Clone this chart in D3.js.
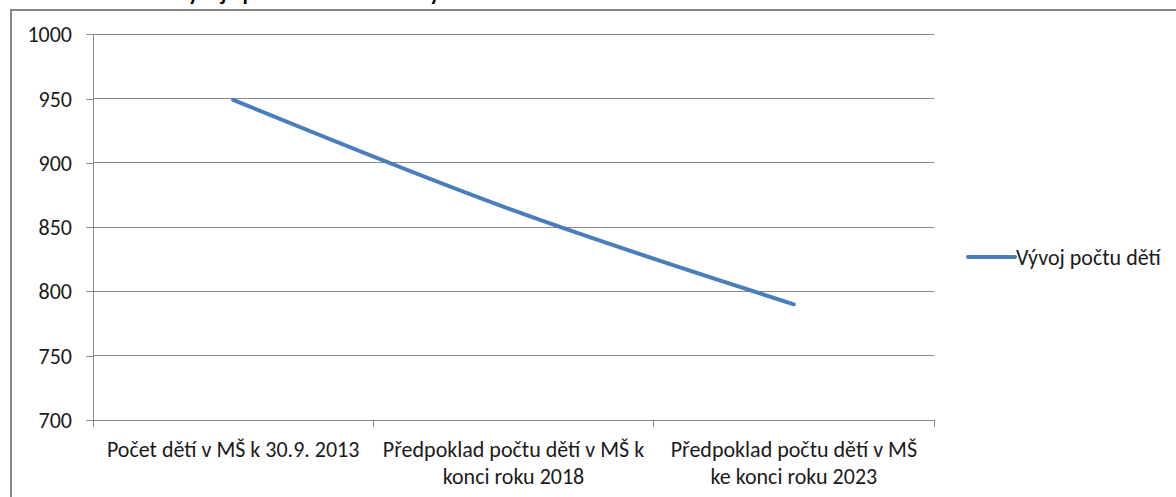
<!DOCTYPE html>
<html>
<head>
<meta charset="utf-8">
<script src="https://cdn.jsdelivr.net/npm/d3@7"></script>
<style>
  html, body { margin: 0; padding: 0; background: #fff; overflow: hidden; }
  svg { display: block; }
  text { font-family: Carlito, Calibri, Lato, "Open Sans", sans-serif; fill: #1a1a1a; }
</style>
</head>
<body>
<svg id="chart" width="1176" height="497"></svg>
<script>
// ---- data ----
const titleText = "Graf č. 12: Odhad vývoje počtu dětí v mateřských školách v ORP Hranice do roku 2023 dle ČSÚ – střední varianta";
const categories = [
  "Počet dětí v MŠ k 30.9. 2013",
  "Předpoklad počtu dětí v MŠ k konci roku 2018",
  "Předpoklad počtu dětí v MŠ ke konci roku 2023"
];
const categoryLabelLines = [
  ["Počet dětí v MŠ k 30.9. 2013"],
  ["Předpoklad počtu dětí v MŠ k", "konci roku 2018"],
  ["Předpoklad počtu dětí v MŠ", "ke konci roku 2023"]
];
const seriesName = "Vývoj počtu dětí";
const seriesValues = [949, 863, 790];
const yTicks = [700, 750, 800, 850, 900, 950, 1000];

// ---- layout ----
const svg = d3.select("#chart");
const plotLeft = 93, plotRight = 934, plotTop = 34.3, plotBottom = 420;
const gridColor = "#8a8a8a";
const lineColor = "#4a7ebb";
const fontSize = 22;

// outer frame (extends beyond viewport on right/bottom)
svg.append("rect")
  .attr("x", 11).attr("y", 10)
  .attr("width", 1300).attr("height", 600)
  .attr("fill", "none").attr("stroke", "#878787").attr("stroke-width", 2);

// title (mostly above the visible area, as in the reference)
svg.append("text")
  .attr("x", 14).attr("y", -0.5)
  .style("font-weight", "bold").style("font-size", "22px").style("fill", "#000")
  .text(titleText);

const x = d3.scaleBand().domain(categories).range([plotLeft, plotRight]).padding(0);
const y = d3.scaleLinear().domain([700, 1000]).range([plotBottom, plotTop]);

// gridlines
svg.append("g").selectAll("line")
  .data(yTicks.filter(d => d !== 700))
  .join("line")
  .attr("x1", plotLeft).attr("x2", plotRight)
  .attr("y1", d => y(d)).attr("y2", d => y(d))
  .attr("stroke", gridColor).attr("stroke-width", 1)
  .attr("shape-rendering", "crispEdges");

// y axis
const yAxis = svg.append("g")
  .attr("transform", `translate(${plotLeft},0)`)
  .call(d3.axisLeft(y).tickValues(yTicks).tickSize(7).tickPadding(14).tickFormat(d3.format("d")));
yAxis.selectAll("path, line").attr("stroke", gridColor).attr("shape-rendering", "crispEdges");
yAxis.attr("font-family", null).attr("font-size", null);
yAxis.selectAll("text").style("font-size", fontSize + "px").style("fill", "#1a1a1a").attr("dy", "0.34em");

// x axis
const xAxis = svg.append("g")
  .attr("transform", `translate(0,${plotBottom})`)
  .call(d3.axisBottom(x).tickSize(0).tickFormat(""));
xAxis.select("path").attr("stroke", gridColor).attr("shape-rendering", "crispEdges");
const boundaries = categories.map(c => x(c)).concat([x(categories[categories.length - 1]) + x.bandwidth()]);
xAxis.selectAll("line.bound")
  .data(boundaries)
  .join("line")
  .attr("class", "bound")
  .attr("x1", d => d).attr("x2", d => d)
  .attr("y1", 0).attr("y2", 7)
  .attr("stroke", gridColor).attr("shape-rendering", "crispEdges");

// x labels
const labelG = svg.append("g");
categories.forEach((c, i) => {
  const cx = x(c) + x.bandwidth() / 2;
  const t = labelG.append("text")
    .attr("x", cx)
    .attr("y", 457)
    .attr("text-anchor", "middle")
    .style("font-size", fontSize + "px");
  categoryLabelLines[i].forEach((ln, j) => {
    t.append("tspan")
      .attr("x", cx)
      .attr("dy", j === 0 ? 0 : 27)
      .text(ln);
  });
});

// line (smoothed)
const lineGen = d3.line()
  .x((d, i) => x(categories[i]) + x.bandwidth() / 2)
  .y(d => y(d))
  .curve(d3.curveCatmullRom.alpha(0.5));
svg.append("path")
  .datum(seriesValues)
  .attr("d", lineGen)
  .attr("fill", "none")
  .attr("stroke", lineColor)
  .attr("stroke-width", 4)
  .attr("stroke-linecap", "round");

// legend
const lg = svg.append("g").attr("transform", "translate(968,257)");
lg.append("line").attr("x1", 0).attr("x2", 47).attr("y1", 0).attr("y2", 0)
  .attr("stroke", lineColor).attr("stroke-width", 4).attr("stroke-linecap", "round");
lg.append("text").attr("x", 48).attr("y", 7.5).style("font-size", fontSize + "px").text(seriesName);
</script>
</body>
</html>
